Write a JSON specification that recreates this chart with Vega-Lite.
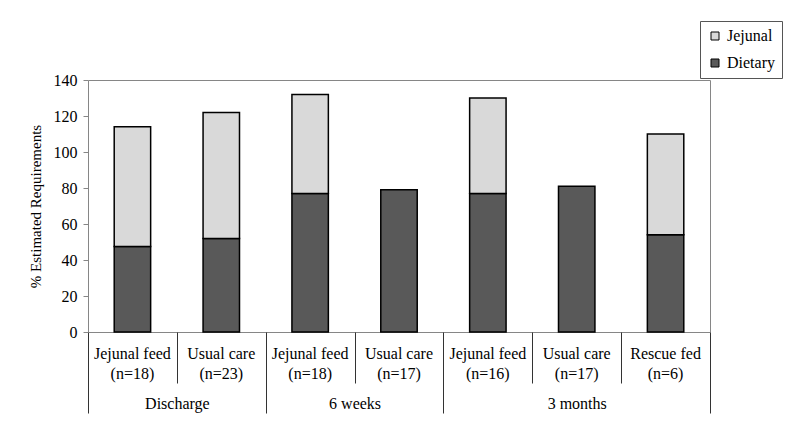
{
  "$schema": "https://vega.github.io/schema/vega-lite/v6.json",
  "width": 622,
  "height": 252,
  "autosize": {"type": "none"},
  "padding": {"left": 88, "top": 80, "right": 90, "bottom": 107},
  "background": "white",
  "config": {
    "font": "Liberation Serif",
    "axis": {"labelFont": "Liberation Serif", "titleFont": "Liberation Serif"},
    "legend": {"labelFont": "Liberation Serif"},
    "view": {"stroke": "#868686", "strokeWidth": 1}
  },
  "datasets": {
    "bars": [
      {"bar": "Discharge|Jejunal feed|(n=18)", "part": "Dietary", "value": 47.5},
      {"bar": "Discharge|Jejunal feed|(n=18)", "part": "Jejunal", "value": 66.5},
      {"bar": "Discharge|Usual care|(n=23)", "part": "Dietary", "value": 52},
      {"bar": "Discharge|Usual care|(n=23)", "part": "Jejunal", "value": 70},
      {"bar": "6 weeks|Jejunal feed|(n=18)", "part": "Dietary", "value": 77},
      {"bar": "6 weeks|Jejunal feed|(n=18)", "part": "Jejunal", "value": 55},
      {"bar": "6 weeks|Usual care|(n=17)", "part": "Dietary", "value": 79},
      {"bar": "3 months|Jejunal feed|(n=16)", "part": "Dietary", "value": 77},
      {"bar": "3 months|Jejunal feed|(n=16)", "part": "Jejunal", "value": 53},
      {"bar": "3 months|Usual care|(n=17)", "part": "Dietary", "value": 81},
      {"bar": "3 months|Rescue fed|(n=6)", "part": "Dietary", "value": 54},
      {"bar": "3 months|Rescue fed|(n=6)", "part": "Jejunal", "value": 56}
    ],
    "groups": [
      {"group": "Discharge", "mid": 1},
      {"group": "6 weeks", "mid": 3},
      {"group": "3 months", "mid": 5.5}
    ]
  },
  "layer": [
    {
      "data": {"name": "bars"},
      "mark": {"type": "bar", "stroke": "black", "strokeWidth": 1.5},
      "encoding": {
        "x": {
          "field": "bar",
          "type": "nominal",
          "sort": null,
          "scale": {"paddingInner": 0.59, "paddingOuter": 0.295},
          "axis": {
            "title": null,
            "orient": "bottom",
            "domain": false,
            "ticks": false,
            "tickSize": 0,
            "labelExpr": "slice(split(datum.value, '|'), 1)",
            "labelAngle": 0,
            "labelPadding": 13,
            "labelFontSize": 16,
            "labelColor": "black",
            "labelLineHeight": 20
          }
        },
        "y": {
          "field": "value",
          "type": "quantitative",
          "stack": "zero",
          "scale": {"domain": [0, 140], "nice": false},
          "axis": {
            "title": "% Estimated Requirements",
            "titleFontSize": 15,
            "titleFontWeight": "normal",
            "titleColor": "black",
            "titlePadding": 10,
            "values": [0, 20, 40, 60, 80, 100, 120, 140],
            "tickSize": 5,
            "tickColor": "#868686",
            "domain": false,
            "grid": false,
            "labelFontSize": 16,
            "labelColor": "black",
            "labelPadding": 6
          }
        },
        "color": {
          "field": "part",
          "type": "nominal",
          "scale": {"domain": ["Jejunal", "Dietary"], "range": ["#d9d9d9", "#595959"]},
          "legend": {
            "title": null,
            "orient": "none",
            "legendX": 612,
            "legendY": -59,
            "symbolType": "square",
            "symbolSize": 64,
            "symbolStrokeColor": "black",
            "symbolStrokeWidth": 1,
            "labelFontSize": 16,
            "labelColor": "black",
            "labelOffset": 4,
            "strokeColor": "#555555",
            "fillColor": "white",
            "padding": 7,
            "rowPadding": 11
          }
        },
        "order": {"field": "part", "sort": "ascending"}
      }
    },
    {
      "data": {"name": "groups"},
      "mark": {"type": "point", "opacity": 0},
      "encoding": {
        "x": {
          "field": "mid",
          "type": "quantitative",
          "scale": {"domain": [0, 7], "nice": false, "zero": false},
          "axis": {
            "title": null,
            "orient": "bottom",
            "domain": false,
            "grid": false,
            "values": [0, 1, 2, 3, 4, 5.5, 7],
            "tickSize": 81,
            "tickColor": "#333333",
            "tickOpacity": {
              "condition": {"test": "datum.value == 0 || datum.value == 2 || datum.value == 4 || datum.value == 7", "value": 1},
              "value": 0
            },
            "labelExpr": "datum.value == 1 ? 'Discharge' : datum.value == 3 ? '6 weeks' : datum.value == 5.5 ? '3 months' : ''",
            "labelPadding": -18,
            "labelFontSize": 16,
            "labelColor": "black",
            "labelFlush": false,
            "labelOverlap": false
          }
        }
      }
    },
    {
      "data": {"name": "groups"},
      "mark": {"type": "point", "opacity": 0},
      "encoding": {
        "x": {
          "field": "mid",
          "type": "quantitative",
          "scale": {"domain": [0, 7], "nice": false, "zero": false},
          "axis": {
            "title": null,
            "orient": "bottom",
            "domain": false,
            "grid": false,
            "labels": false,
            "values": [1, 3, 5, 6],
            "tickSize": 51,
            "tickColor": "#333333"
          }
        }
      }
    }
  ],
  "resolve": {"scale": {"x": "independent"}, "axis": {"x": "independent"}}
}
